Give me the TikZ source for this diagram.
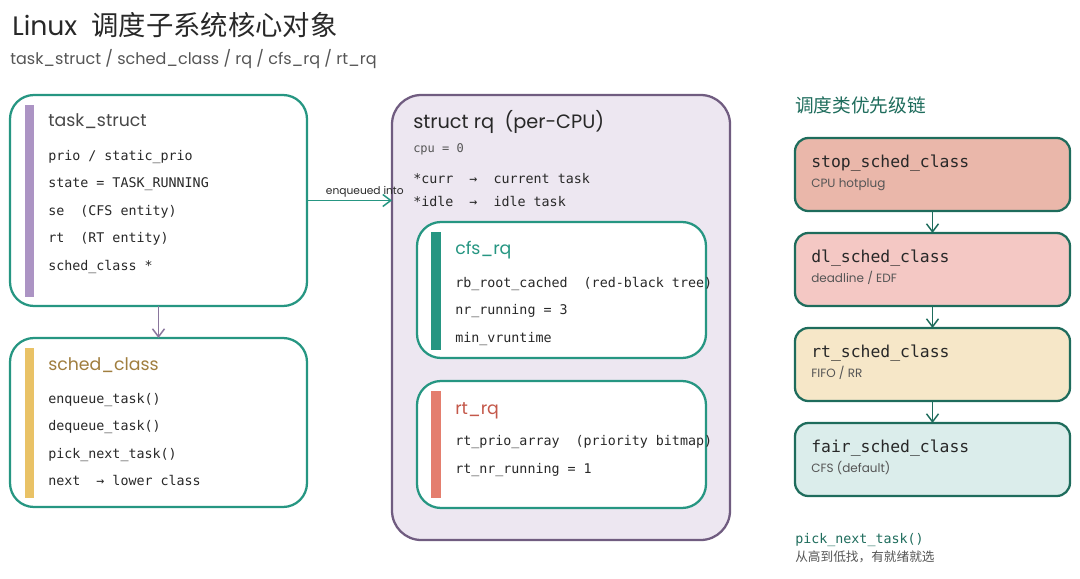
\documentclass[tikz,border=0pt]{standalone}
\usepackage{fontspec}
\setmainfont{Poppins}
\setmonofont{DejaVu Sans Mono}
\newfontfamily\cjk{Noto Sans CJK SC}
\usetikzlibrary{arrows.meta,positioning}
\definecolor{ink}{RGB}{40,40,40}
\definecolor{subink}{RGB}{85,85,85}
\definecolor{tealline}{RGB}{38,150,130}
\definecolor{darkteal}{RGB}{30,108,92}
\definecolor{lilac}{RGB}{172,148,196}
\definecolor{rqfill}{RGB}{237,231,241}
\definecolor{rqline}{RGB}{112,92,128}
\definecolor{mustard}{RGB}{233,194,102}
\definecolor{salmon}{RGB}{228,126,110}
\definecolor{gold}{RGB}{160,126,62}
\definecolor{rtred}{RGB}{196,88,74}
\definecolor{stopfill}{RGB}{234,183,170}
\definecolor{dlfill}{RGB}{244,200,196}
\definecolor{rtfill}{RGB}{246,231,200}
\definecolor{fairfill}{RGB}{219,237,235}

\tikzset{
  sizebox/.style 2 args={minimum width=#1*0.75pt,minimum height=#2*0.75pt,inner sep=0pt,outer sep=0pt},
  objbox/.style={draw=tealline,fill=white,line width=1.7pt,rounded corners=18pt},
  rqbox/.style={draw=rqline,fill=rqfill,line width=1.7pt,rounded corners=22pt},
  classbox/.style={draw=darkteal,line width=1.7pt,rounded corners=10pt,sizebox={275}{73}},
  boxtitle/.style={anchor=base west,inner sep=0pt,font=\fontsize{13}{15}\selectfont},
  field/.style={anchor=base west,inner sep=0pt,text=ink,font=\ttfamily\fontsize{10}{12}\selectfont},
  classtitle/.style={anchor=base west,inner sep=0pt,text=ink,font=\ttfamily\fontsize{12.3}{14}\selectfont},
  classsub/.style={anchor=base west,inner sep=0pt,text=subink,font=\fontsize{9}{11}\selectfont},
  flow/.style={-{Straight Barb[length=6pt,width=9pt]},line width=1.1pt}
}

\begin{document}
\begin{tikzpicture}[x=0.75pt,y=-0.75pt]
  \useasboundingbox (0,0) rectangle (1080,578);
  % heading
  \node (title) [anchor=base west,inner sep=0pt,text=ink,font=\fontsize{20}{24}\selectfont] at (12,35) {Linux\ \ {\cjk\fontsize{20.5}{24}\selectfont 调度子系统核心对象}};
  \node (subtitle) [anchor=base west,inner sep=0pt,text=subink,font=\fontsize{12}{14}\selectfont] at (10,64) {task\_struct / sched\_class / rq / cfs\_rq / rt\_rq};

  % task_struct
  \node (ts) [objbox,sizebox={297}{211}] at (158.5,200.5) {};
  \fill[lilac] (25,105) rectangle (34,297);
  \node (ts-t) [boxtitle,text=ink!85] at (48,126) {task\_struct};
  \foreach \y/\t [count=\i] in {
    160/{prio / static\_prio},
    187/{state = TASK\_RUNNING},
    215/{se\ \ (CFS entity)},
    242/{rt\ \ (RT entity)},
    270/{sched\_class *}}
    \node (ts-\i) [field] at (48,\y) {\t};

  % sched_class
  \node (sc) [objbox,sizebox={297}{169}] at (158.5,422.5) {};
  \fill[mustard] (25,348) rectangle (34,498);
  \node (sc-t) [boxtitle,text=gold] at (48,370) {sched\_class};
  \foreach \y/\t [count=\i] in {
    403/{enqueue\_task()},
    430/{dequeue\_task()},
    458/{pick\_next\_task()},
    485/{next\ \ → lower class}}
    \node (sc-\i) [field] at (48,\y) {\t};

  \draw[flow,draw=lilac!80!black] (ts) -- (sc);

  % struct rq
  \node (rq) [rqbox,sizebox={338}{445}] at (561,317.5) {};
  \node (rq-t) [boxtitle,text=ink,font=\fontsize{14.5}{17}\selectfont] at (413,128) {struct rq\ \ (per-CPU)};
  \node (rq-cpu) [field,text=subink,font=\ttfamily\fontsize{9}{11}\selectfont] at (413,152) {cpu = 0};
  \node (rq-1) [field] at (413,183) {*curr\ \ →\ \ current task};
  \node (rq-2) [field] at (413,206) {*idle\ \ →\ \ idle task};

  \draw[flow,draw=tealline] (ts.east) -- (ts.east -| rq.west)
    node[pos=0.68,above=1pt,inner sep=1pt,text=ink,font=\fontsize{8}{10}\selectfont] (enq) {enqueued into};

  % cfs_rq
  \node (cfs) [objbox,sizebox={289}{136}] at (561.5,290) {};
  \fill[tealline] (431,232) rectangle (441,350);
  \node (cfs-t) [boxtitle,text=tealline] at (455,254) {cfs\_rq};
  \foreach \y/\t [count=\i] in {
    287/{rb\_root\_cached\ \ (red-black tree)},
    314/{nr\_running = 3},
    342/{min\_vruntime}}
    \node (cfs-\i) [field] at (455,\y) {\t};

  % rt_rq
  \node (rtq) [objbox,sizebox={289}{127}] at (561.5,444.5) {};
  \fill[salmon] (431,391) rectangle (441,498);
  \node (rtq-t) [boxtitle,text=rtred] at (455,414) {rt\_rq};
  \foreach \y/\t [count=\i] in {
    445/{rt\_prio\_array\ \ (priority bitmap)},
    473/{rt\_nr\_running = 1}}
    \node (rtq-\i) [field] at (455,\y) {\t};

  % priority chain
  \node (chain) [anchor=base west,inner sep=0pt,text=darkteal,font=\cjk\fontsize{14}{17}\selectfont] at (795,112) {调度类优先级链};
  \foreach \n/\y/\col/\t/\s in {
    stop/174.5/stopfill/{stop\_sched\_class}/{CPU hotplug},
    dl/269.5/dlfill/{dl\_sched\_class}/{deadline / EDF},
    rt/364.5/rtfill/{rt\_sched\_class}/{FIFO / RR},
    fair/459.5/fairfill/{fair\_sched\_class}/{CFS (default)}}{
    \node (\n) [classbox,fill=\col] at (932.5,\y) {};
    \node (\n-t) [classtitle] at (811,\y-7.5) {\t};
    \node (\n-s) [classsub] at (811,\y+13) {\s};
  }
  \foreach \a/\b in {stop/dl,dl/rt,rt/fair}
    \draw[flow,draw=darkteal] (\a) -- (\b);

  \node (pick) [anchor=base west,inner sep=0pt,text=darkteal,font=\ttfamily\fontsize{10}{12}\selectfont] at (795,543) {pick\_next\_task()};
  \node (pick-s) [anchor=base west,inner sep=0pt,text=subink,font=\cjk\fontsize{9.5}{11}\selectfont] at (795,561) {从高到低找，有就绪就选};
\end{tikzpicture}
\end{document}
